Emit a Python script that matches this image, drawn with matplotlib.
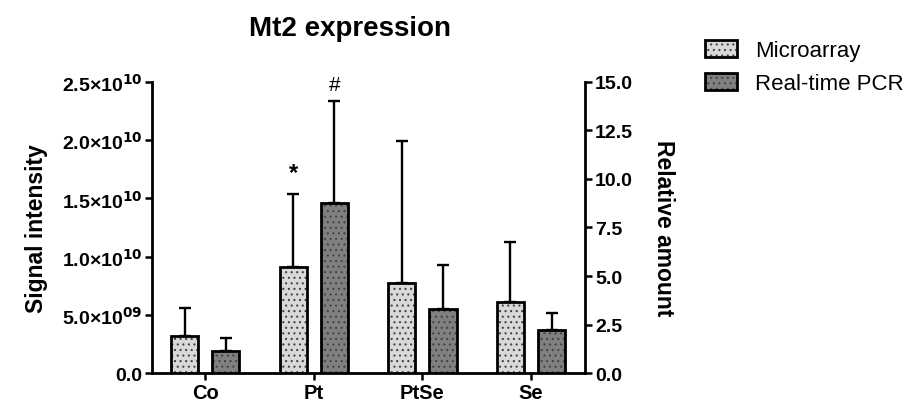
import numpy as np
from matplotlib import pyplot as plt
from matplotlib.patches import Patch

plt.rcParams['font.family'] = ['Liberation Sans', 'DejaVu Sans']
plt.rcParams['mathtext.default'] = 'bf'
plt.rcParams['hatch.linewidth'] = 0.8

# data
categories = ['Co', 'Pt', 'PtSe', 'Se']
micro_mean = [3.2e9, 9.1e9, 7.75e9, 6.1e9]
micro_sd = [2.4e9, 6.3e9, 12.2e9, 5.15e9]
pcr_mean = [1.15, 8.75, 3.3, 2.22]
pcr_sd = [0.65, 5.25, 2.27, 0.88]

left_ticks = [0, 5e9, 1e10, 1.5e10, 2e10, 2.5e10]
left_ticklabels = ['0.0', '5.0×10$^{09}$', '1.0×10$^{10}$', '1.5×10$^{10}$',
                   '2.0×10$^{10}$', '2.5×10$^{10}$']
right_ticks = [0, 2.5, 5, 7.5, 10, 12.5, 15]

micro_color = '#d9d9d9'
pcr_color = '#808080'
dot_color = '#444444'


#
def dotted_bars(ax, xs, heights, width, color):
    # fill + gray dots first, then the black outline on top
    ax.bar(xs, heights, width, color=color, edgecolor=dot_color, linewidth=0,
           hatch='...', zorder=3)
    ax.bar(xs, heights, width, fill=False, edgecolor='black', linewidth=2.0, zorder=4)


def dotted_handle(color):
    return (Patch(facecolor=color, edgecolor=dot_color, linewidth=0, hatch='...'),
            Patch(fill=False, edgecolor='black', linewidth=2.0))


#
fig = plt.figure(figsize=(9.13, 4.06), dpi=100)
ax1 = fig.add_axes([0.1665, 0.0788, 0.4745, 0.7168])
ax2 = ax1.twinx()

x = np.arange(len(categories))
w = 0.25
off = 0.19

dotted_bars(ax1, x - off, micro_mean, w, micro_color)
ax1.errorbar(x - off, micro_mean, yerr=[np.zeros(len(x)), micro_sd], fmt='none',
             ecolor='black', elinewidth=1.7, capsize=4.5, capthick=1.7, zorder=2)
dotted_bars(ax2, x + off, pcr_mean, w, pcr_color)
ax2.errorbar(x + off, pcr_mean, yerr=[np.zeros(len(x)), pcr_sd], fmt='none',
             ecolor='black', elinewidth=1.7, capsize=4.5, capthick=1.7, zorder=2)

# significance marks
ax1.annotate('*', (x[1] - off, micro_mean[1] + micro_sd[1]), xytext=(0, 7),
             textcoords='offset points', ha='center', va='bottom',
             fontsize=17, fontweight='bold')
ax2.annotate('#', (x[1] + off, pcr_mean[1] + pcr_sd[1]), xytext=(0, 5),
             textcoords='offset points', ha='center', va='bottom', fontsize=15)

ax1.set_xlim(-0.49, 3.5)
ax1.set_ylim(0, 2.5e10)
ax2.set_ylim(0, 15)

ax1.set_xticks(x)
ax1.set_xticklabels(categories, fontsize=14.5, fontweight='bold')
ax1.set_yticks(left_ticks)
ax1.set_yticklabels(left_ticklabels, fontsize=14, fontweight='bold')
ax2.set_yticks(right_ticks)
ax2.set_yticklabels(['%.1f' % t for t in right_ticks], fontsize=14, fontweight='bold')

for a in (ax1, ax2):
    a.tick_params(width=1.8, length=5, direction='out', pad=2)
    a.spines['top'].set_visible(False)
    for s in a.spines.values():
        s.set_linewidth(2.0)
ax1.spines['right'].set_visible(False)
ax2.spines['left'].set_visible(False)
ax2.spines['bottom'].set_visible(False)

ax1.set_ylabel('Signal intensity', fontsize=16.5, fontweight='bold', labelpad=10)
ax2.set_ylabel('Relative amount', fontsize=16.5, fontweight='bold', rotation=270,
               labelpad=30)

fig.text(0.383, 0.928, 'Mt2 expression', ha='center', va='center',
         fontsize=20, fontweight='bold')

handles = [dotted_handle(micro_color), dotted_handle(pcr_color)]
fig.legend(handles, ['Microarray', 'Real-time PCR'], loc='upper left',
           bbox_to_anchor=(0.772, 0.9), frameon=False, fontsize=16,
           handlelength=1.45, handleheight=0.8, handletextpad=0.8,
           labelspacing=0.55, borderpad=0, borderaxespad=0)

fig.savefig('out.png', dpi=100)
